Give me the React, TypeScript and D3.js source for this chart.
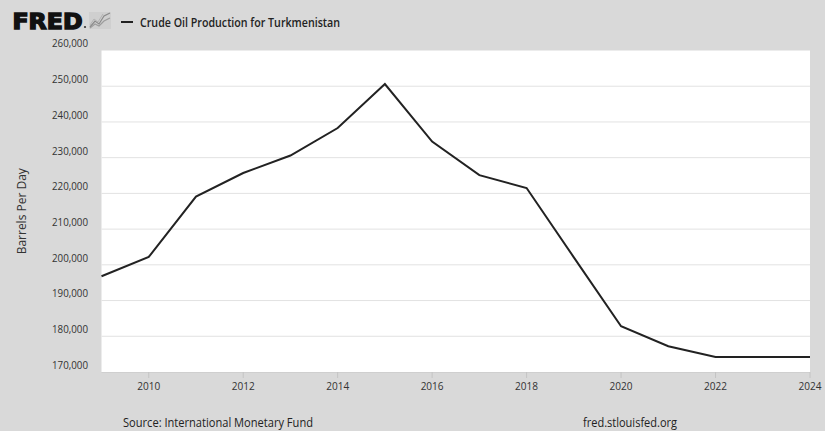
import React from "react";
import * as d3 from "d3";

const years = [2009, 2010, 2011, 2012, 2013, 2014, 2015, 2016, 2017, 2018, 2019, 2020, 2021, 2022, 2023, 2024];
const production = [196800, 202200, 219100, 225700, 230600, 238300, 250600, 234500, 225100, 221500, 202100, 182800, 177200, 174200, 174200, 174200];
const xTicks = [2010, 2012, 2014, 2016, 2018, 2020, 2022, 2024];
const yTicks = [170000, 180000, 190000, 200000, 210000, 220000, 230000, 240000, 250000, 260000];

const title = "Crude Oil Production for Turkmenistan";
const yTitle = "Barrels Per Day";
const source = "Source: International Monetary Fund";
const site = "fred.stlouisfed.org";

const W = 825;
const H = 431;
const FONT = "'Open Sans', 'Noto Sans', sans-serif";

export default function App() {
  const x = d3.scaleLinear().domain([2009, 2024]).range([101.5, 810]);
  const y = d3.scaleLinear().domain([170000, 260000]).range([372, 50.5]);
  const fmt = d3.format(",");
  const line = d3
    .line<number>()
    .x((_, i) => x(years[i]))
    .y((d) => y(d));

  return (
    <svg
      width={W}
      height={H}
      style={{ position: "absolute", left: 0, top: 0, display: "block" }}
      fontFamily={FONT}
    >
      <rect x={0} y={0} width={W} height={H} fill="#d9d9d9" />
      {/* header */}
      <text
        x={12.5}
        y={28.5}
        fontFamily="'DejaVu Sans', sans-serif"
        fontWeight={900}
        fontSize={21}
        fill="#111"
        textLength={70}
        lengthAdjust="spacingAndGlyphs"
        stroke="#111"
        strokeWidth={1.4}
      >
        FRED
      </text>
      <circle cx={85} cy={27} r={1.1} fill="#333" />
      <g fill="none" strokeWidth={1.2}>
        <rect x={89} y={12} width={22} height={17} fill="#cfcfcf" stroke="none" />
        <polyline points="90,27 95,21 99,24 104,16 110,13" stroke="#8a8a8a" />
        <polyline points="90,28 95,24 99,26 104,21 110,18" stroke="#9c9c9c" />
        <polyline points="90,25 94,19 98,22 103,14" stroke="#b0b0b0" strokeWidth={0.9} />
      </g>
      <line x1={121} x2={133} y1={22} y2={22} stroke="#222" strokeWidth={2} />
      <text x={140} y={26.5} fontSize={12.5} fontWeight={600} fill="#222" textLength={200} lengthAdjust="spacingAndGlyphs">
        {title}
      </text>

      {/* plot area */}
      <rect x={x(2009)} y={y(260000)} width={x(2024) - x(2009)} height={y(170000) - y(260000)} fill="#ffffff" />
      {yTicks.map((t) => (
        <g key={t}>
          {t > 170000 && t < 260000 && (
            <line x1={x(2009)} x2={x(2024)} y1={y(t)} y2={y(t)} stroke="#e2e2e2" strokeWidth={1} />
          )}
          <text
            x={88}
            y={y(t) - 6}
            fontSize={11}
            fill="#333"
            textAnchor="end"
            dominantBaseline="middle"
            textLength={36}
            lengthAdjust="spacingAndGlyphs"
          >
            {fmt(t)}
          </text>
        </g>
      ))}
      <line x1={x(2009)} x2={x(2024)} y1={y(170000) + 0.5} y2={y(170000) + 0.5} stroke="#cfcfcf" strokeWidth={1} />
      {xTicks.map((t) => (
        <g key={t}>
          <line x1={x(t)} x2={x(t)} y1={y(170000)} y2={y(170000) + 6} stroke="#c4c4c4" strokeWidth={1} />
          <text
            x={x(t)}
            y={387}
            fontSize={11}
            fill="#333"
            textAnchor="middle"
            dominantBaseline="middle"
            textLength={23}
            lengthAdjust="spacingAndGlyphs"
          >
            {t}
          </text>
        </g>
      ))}
      <text
        transform={`translate(23,${(y(170000) + y(260000)) / 2}) rotate(-90)`}
        fontSize={12}
        fill="#333"
        textAnchor="middle"
        dominantBaseline="middle"
      >
        {yTitle}
      </text>

      <path d={line(production) || ""} fill="none" stroke="#222" strokeWidth={2} strokeLinejoin="miter" />

      {/* footer */}
      <text x={123} y={424} fontSize={12} fill="#222" dominantBaseline="middle" textLength={190} lengthAdjust="spacingAndGlyphs">
        {source}
      </text>
      <text
        x={630}
        y={424}
        fontSize={12}
        fill="#222"
        textAnchor="middle"
        dominantBaseline="middle"
        textLength={94}
        lengthAdjust="spacingAndGlyphs"
      >
        {site}
      </text>
    </svg>
  );
}
